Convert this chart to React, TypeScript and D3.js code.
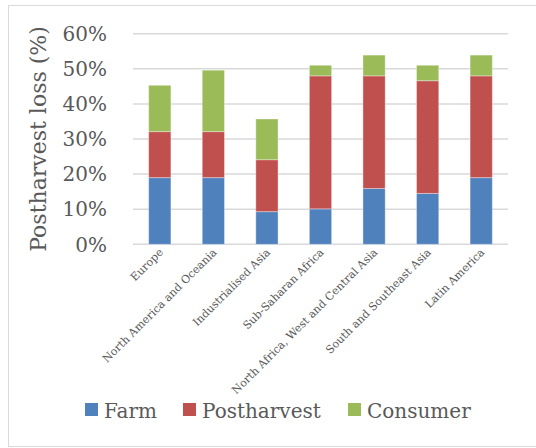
import { scaleBand, scaleLinear, stack } from "d3"

const regions = [
  "Europe",
  "North America and Oceania",
  "Industrialised Asia",
  "Sub-Saharan Africa",
  "North Africa, West and Central Asia",
  "South and Southeast Asia",
  "Latin America",
]

// losses per stage, % of production
const farm = [19.0, 19.0, 9.3, 10.1, 15.9, 14.5, 19.0]
const postharvest = [13.1, 13.1, 14.8, 37.9, 32.1, 32.1, 29.0]
const consumer = [13.2, 17.5, 11.6, 3.0, 5.9, 4.4, 5.9]

const seriesNames = ["Farm", "Postharvest", "Consumer"]
const seriesColors = ["#4F81BD", "#C0504D", "#9BBB59"]
const yTicks = [0, 10, 20, 30, 40, 50, 60]

const W = 536
const H = 448
const FONT = "'DejaVu Serif', serif"
const GREY = "#595959"

export default function App() {
  const rows = regions.map((r, i) => ({
    region: r,
    Farm: farm[i],
    Postharvest: postharvest[i],
    Consumer: consumer[i],
  }))
  const layers = stack<any>().keys(seriesNames)(rows)

  const x = scaleBand()
    .domain(regions)
    .range([133, 508])
    .paddingInner(0.585)
    .paddingOuter(0.2925)

  const y = scaleLinear().domain([0, 60]).range([244.3, 33.7])

  const legendX = [85, 183, 348]

  return (
    <svg
      width={W}
      height={H}
      style={{ position: "absolute", left: 0, top: 0, background: "#fff" }}
    >
      {/* chart frame */}
      <rect x={8.5} y={5.5} width={560} height={441} fill="none" stroke="#d9d9d9" />

      {/* grid */}
      {yTicks.map((t) => (
        <line
          key={t}
          x1={133}
          x2={508}
          y1={y(t)}
          y2={y(t)}
          stroke="#d9d9d9"
          strokeWidth={1.5}
        />
      ))}

      {/* y tick labels */}
      {yTicks.map((t) => (
        <text
          key={t}
          x={107}
          y={y(t)}
          dy="0.36em"
          textAnchor="end"
          fontFamily={FONT}
          fontSize={20}
          fill={GREY}
        >
          {t}%
        </text>
      ))}

      {/* y title */}
      <text
        transform={`translate(46,139) rotate(-90)`}
        textAnchor="middle"
        fontFamily={FONT}
        fontSize={22}
        fill={GREY}
      >
        Postharvest loss (%)
      </text>

      {/* bars */}
      {layers.map((layer, li) => (
        <g key={layer.key} fill={seriesColors[li]}>
          {layer.map((d, i) => (
            <rect
              key={i}
              x={x(regions[i])!}
              width={x.bandwidth()}
              y={y(d[1])}
              height={y(d[0]) - y(d[1])}
              stroke="#ffffff"
              strokeOpacity={0.35}
              strokeWidth={1}
            />
          ))}
        </g>
      ))}

      {/* category labels */}
      {regions.map((r) => {
        const cx = x(r)! + x.bandwidth() / 2 + 4
        return (
          <text
            key={r}
            transform={`translate(${cx},253) rotate(-45)`}
            textAnchor="end"
            fontFamily={FONT}
            fontSize={11}
            fill={GREY}
          >
            {r}
          </text>
        )
      })}

      {/* legend */}
      {seriesNames.map((s, i) => (
        <g key={s}>
          <rect x={legendX[i]} y={403} width={13} height={13} fill={seriesColors[i]} />
          <text
            x={legendX[i] + 19}
            y={417.5}
            fontFamily={FONT}
            fontSize={20}
            fill={GREY}
          >
            {s}
          </text>
        </g>
      ))}
    </svg>
  )
}
